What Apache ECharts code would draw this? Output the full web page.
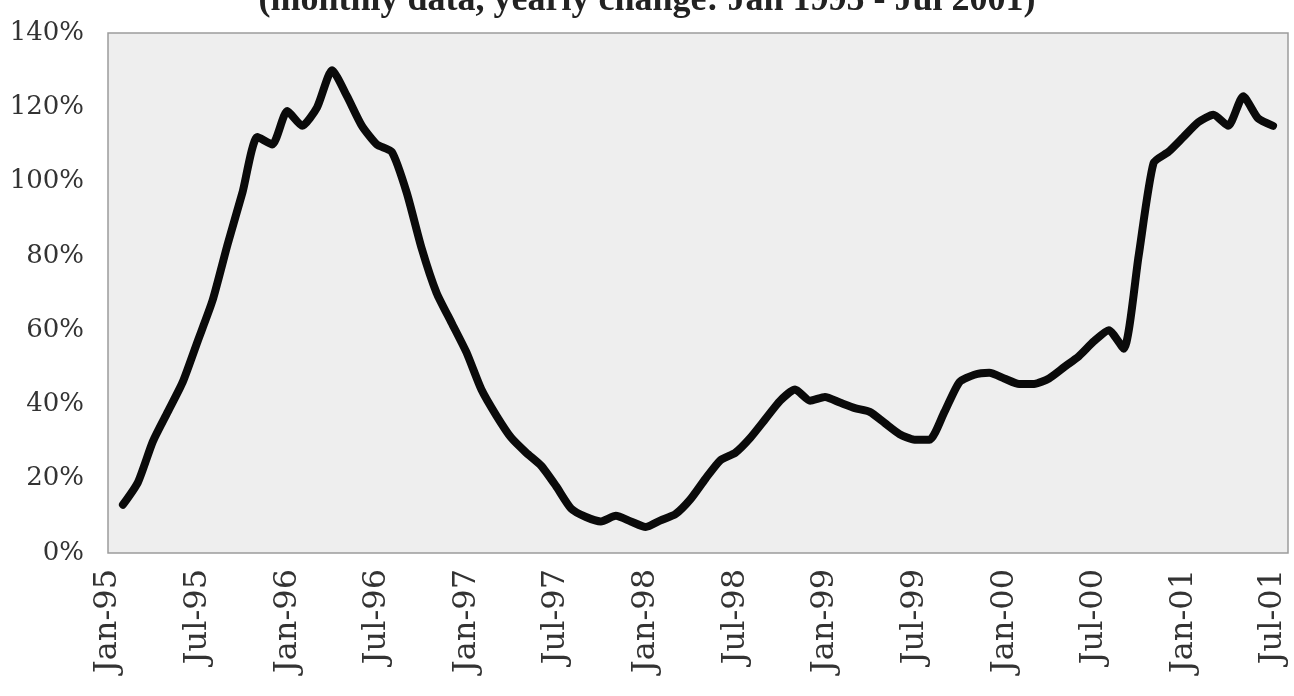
<!DOCTYPE html>
<html>
<head>
<meta charset="utf-8">
<script src="https://cdn.jsdelivr.net/npm/echarts@6/dist/echarts.min.js"></script>
<style>html,body{margin:0;padding:0;background:#fff;}#c{width:1294px;height:696px;}</style>
</head>
<body>
<div id="c"></div>
<script>
var titleText = '(monthly data, yearly change: Jan 1995 - Jul 2001)';
var months = ['Jan','Feb','Mar','Apr','May','Jun','Jul','Aug','Sep','Oct','Nov','Dec'];
var categories = [];
for (var y = 95; y <= 101; y++) {
  for (var m = 0; m < 12; m++) {
    var yy = (y % 100 < 10 ? '0' : '') + (y % 100);
    categories.push(months[m] + '-' + yy);
    if (y === 101 && m === 7) break;
  }
}
var values = [
  null, 13, 19, 30, 38, 46, 57, 68, 83, 97, 112, 110,
  119, 115, 120, 130, 123, 115, 110, 108, 97, 82, 70, 62,
  54, 44, 37, 31, 27, 23.5, 18, 12, 9.7, 8.5, 10, 8.5,
  7, 8.8, 10.5, 14.5, 20, 25, 27, 31, 36, 41, 44, 41,
  42, 40.5, 39, 38, 35, 32, 30.5, 30.5, 38, 46, 48, 48.5,
  47, 45.5, 45.5, 47, 50, 53, 57, 60, 55, 80, 105, 108,
  112, 116, 118, 115, 123, 117, 115, null
];
var yTicks = [0, 20, 40, 60, 80, 100, 120, 140];

var chart = echarts.init(document.getElementById('c'));
chart.setOption({
  backgroundColor: '#ffffff',
  animation: false,
  title: {
    text: titleText,
    left: 'center',
    top: -22,
    textStyle: { fontFamily: 'Liberation Serif', fontWeight: 'bold', fontSize: 36, color: '#222' }
  },
  grid: {
    left: 108, right: 6, top: 33, bottom: 143,
    show: true, backgroundColor: '#eeeeee', borderColor: '#9c9c9c', borderWidth: 1.5
  },
  xAxis: {
    type: 'category',
    data: categories,
    boundaryGap: false,
    axisLine: { show: false },
    axisTick: { show: false },
    splitLine: { show: false },
    axisLabel: {
      interval: 5,
      rotate: 90,
      margin: 16,
      fontFamily: 'DejaVu Serif',
      fontSize: 32,
      color: '#333'
    }
  },
  yAxis: {
    type: 'value',
    min: yTicks[0],
    max: yTicks[yTicks.length - 1],
    interval: 20,
    axisLine: { show: false },
    axisTick: { show: false },
    splitLine: { show: false },
    axisLabel: {
      formatter: '{value}%',
      margin: 24,
      fontFamily: 'DejaVu Serif',
      fontSize: 26,
      color: '#333'
    }
  },
  series: [{
    type: 'line',
    data: values,
    showSymbol: false,
    connectNulls: false,
    smooth: 0.2,
    lineStyle: { color: '#0a0a0a', width: 8, cap: 'round', join: 'round' }
  }]
});
</script>
</body>
</html>
